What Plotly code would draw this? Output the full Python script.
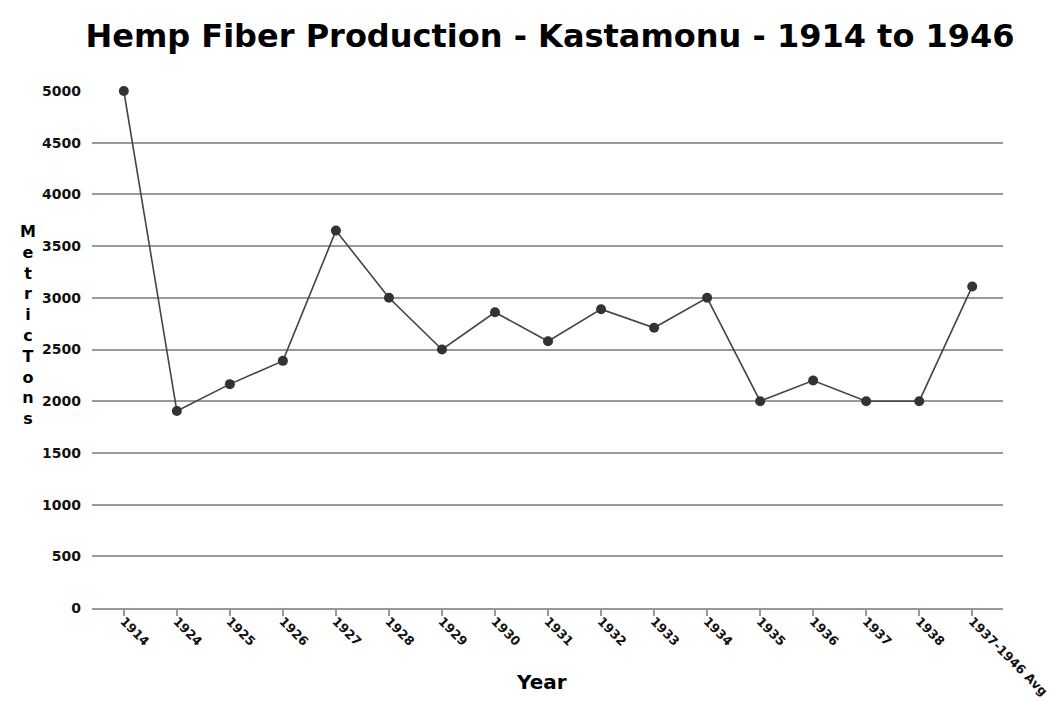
import plotly.graph_objects as go

categories = ["1914", "1924", "1925", "1926", "1927", "1928", "1929", "1930", "1931",
              "1932", "1933", "1934", "1935", "1936", "1937", "1938", "1937-1946 Avg"]
tons = [5000, 1905, 2165, 2390, 3650, 3000, 2500, 2860, 2580,
        2890, 2710, 3000, 2000, 2200, 2000, 2000, 3110]
y_ticks = [0, 500, 1000, 1500, 2000, 2500, 3000, 3500, 4000, 4500, 5000]

fig = go.Figure()
fig.add_trace(go.Scatter(
    x=categories, y=tons, mode="lines+markers",
    line=dict(color="#444444", width=1.6),
    marker=dict(color="#333333", size=10),
    cliponaxis=False, showlegend=False,
))

y_tick_font = dict(family="DejaVu Sans", size=14, color="#111111", weight="bold")
x_tick_font = dict(family="DejaVu Sans", size=12.5, color="#111111", weight="bold")

W, H = 1048, 694
L, R, T, B = 84, 53, 83, 94
pw = W - L - R
ph = H - T - B
fig.update_layout(
    width=W, height=H,
    paper_bgcolor="white", plot_bgcolor="white",
    margin=dict(l=L, r=R, t=T, b=B, autoexpand=False),
    title=dict(text="Hemp Fiber Production - Kastamonu - 1914 to 1946",
               x=542 / W, xanchor="center", y=1 - 28 / H, yanchor="middle",
               font=dict(family="DejaVu Sans", size=32, color="#000000", weight="bold")),
    xaxis=dict(
        type="category", range=[-0.6, 16.58], automargin=False,
        tickangle=45, tickfont=x_tick_font, ticklabelstandoff=-7,
        showline=True, linecolor="#999999", linewidth=2,
        ticks="outside", ticklen=6, tickcolor="#999999", tickwidth=1.5,
        showgrid=False, zeroline=False,
    ),
    yaxis=dict(
        range=[0, 5000], tickvals=y_ticks, tickfont=y_tick_font, automargin=False,
        showgrid=True, gridcolor="#999999", gridwidth=1.6,
        zeroline=False, showline=False, ticks="", ticklabelstandoff=10,
    ),
)
fig.add_annotation(text="Year", x=(533 - L) / pw, xref="paper", y=(600 - 674) / ph, yref="paper",
                   yanchor="middle", showarrow=False,
                   font=dict(family="DejaVu Sans", size=20, weight="bold", color="#000"))
fig.add_annotation(text="<br>".join(list("MetricTons")), x=(10 - L) / pw, xref="paper",
                   y=(600 - 317) / ph, yref="paper", showarrow=False, align="center",
                   font=dict(family="DejaVu Sans", size=16, weight="bold", color="#000"))

fig.write_html("out.html")
